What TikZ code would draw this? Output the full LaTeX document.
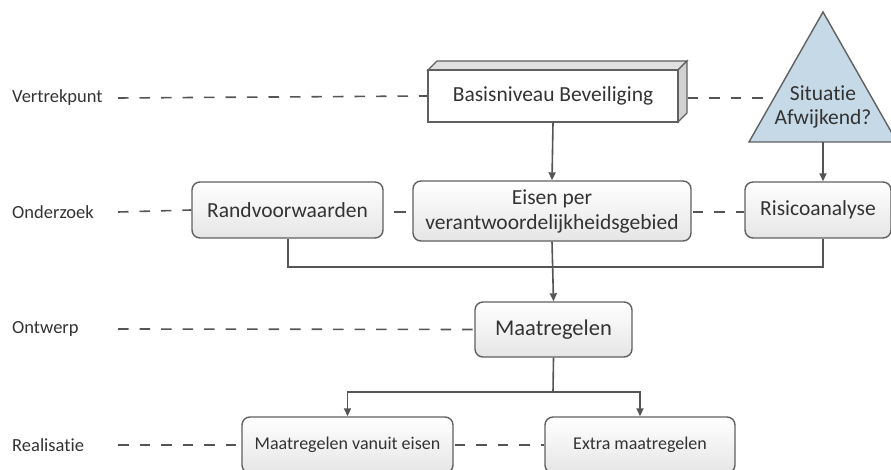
\documentclass[tikz,border=0pt]{standalone}
\usepackage{fontspec}
\setmainfont[Ligatures={NoCommon}]{Carlito}
\usetikzlibrary{arrows.meta}
\definecolor{linec}{HTML}{555555}
\definecolor{boxline}{HTML}{606060}
\definecolor{trifill}{HTML}{C6D9E6}
\definecolor{txt}{HTML}{333333}
\tikzset{
  x=1pt,y=-1pt,
  stepbox/.style={draw=boxline,line width=1.4pt,rounded corners=8pt,top color=white,bottom color=black!10,font=\fontsize{21.5}{24}\selectfont,text=txt,align=center,inner sep=0pt},
  smallbox/.style={stepbox,font=\fontsize{18}{22}\selectfont},
  lvl/.style={font=\fontsize{18.5}{20}\selectfont,text=txt,anchor=west,inner sep=0pt},
  dsh/.style={draw=linec,line width=1.6pt,dash pattern=on 10.5pt off 11pt},
  conn/.style={draw=linec,line width=1.6pt},
  arr/.style={conn,-{Triangle[length=8pt,width=7pt]}},
}
\begin{document}
\begin{tikzpicture}
\useasboundingbox (0,0) rectangle (891,470);
% level labels
\node[lvl] (l1) at (12,98) {Vertrekpunt};
\node[lvl] (l2) at (12,212) {Onderzoek};
\node[lvl] (l3) at (12,329) {Ontwerp};
\node[lvl] (l4) at (12,445) {Realisatie};
\coordinate (d1) at (118,98);
\coordinate (d2) at (118,212);
\coordinate (d3) at (118,329);
\coordinate (d4) at (118,445);
% 3D box Basisniveau
\fill[black!12,draw=boxline,line width=1.4pt] (428,70) -- (437,61) -- (687,61) -- (678,70) -- cycle;
\fill[black!18,draw=boxline,line width=1.4pt] (678,70) -- (687,61) -- (687,113) -- (678,122) -- cycle;
\node[draw=boxline,line width=1.4pt,fill=white,minimum width=250pt,minimum height=52pt,font=\fontsize{21.5}{24}\selectfont,text=txt,inner sep=0pt] (basis) at (553,96) {Basisniveau Beveiliging};
% triangle
\fill[trifill,draw=boxline,line width=1.4pt] (823,12) -- (749,142) -- (897,142) -- cycle;
\node[font=\fontsize{21.5}{24}\selectfont,text=txt,align=center,inner sep=0pt] (tri) at (823,107) {Situatie\\Afwijkend?};
\coordinate (trib) at (823,142);
\coordinate (tril) at (771,98);
% onderzoek row
\node[stepbox,minimum width=191pt,minimum height=56pt] (rand) at (287.5,210) {Randvoorwaarden};
\node[stepbox,minimum width=278pt,minimum height=60pt,font=\fontsize{21.5}{25}\selectfont] (eisen) at (552,211) {Eisen per\\verantwoordelijkheidsgebied};
\node[stepbox,minimum width=146pt,minimum height=56pt] (risico) at (818,210) {Risicoanalyse};
% ontwerp
\node[stepbox,minimum width=157pt,minimum height=55pt,font=\fontsize{22.5}{25}\selectfont] (maat) at (553.5,329.5) {Maatregelen};
% realisatie
\node[smallbox,minimum width=211pt,minimum height=56pt] (mve) at (347.5,445) {Maatregelen vanuit eisen};
\node[smallbox,minimum width=190pt,minimum height=56pt] (extra) at (640,445) {Extra maatregelen};
% dashed level lines
\draw[dsh] (d1) -- (basis.west);
\draw[dsh] (d2) -- (rand.west);
\draw[dsh] (d3) -- (maat.west);
\draw[dsh] (d4) -- (mve.west);
\draw[dsh] (basis.east|-d1) ++(9,0) -- (tril);
\draw[conn] (rand.east|-d2) ++(10,0) -- ++(12,0);
\draw[dsh,dash phase=-1pt] (eisen.east|-d2) -- (risico.west|-d2);
\draw[dsh,dash phase=-1pt] (mve.east) -- (extra.west);
% connectors
\draw[arr] (basis.south) -- (eisen.north);
\draw[arr] (trib) -- (trib|-risico.north);
\draw[conn] (rand.south-|288,0) -- (288,267) -- (823,267) -- (risico.south-|823,0);
\draw[arr] (eisen.south) -- (maat.north);
\coordinate (split) at (553,392);
\draw[conn] (maat.south) -- (split);
\draw[arr] (split) -| (mve.north);
\draw[arr] (split) -| (extra.north);
\end{tikzpicture}
\end{document}
